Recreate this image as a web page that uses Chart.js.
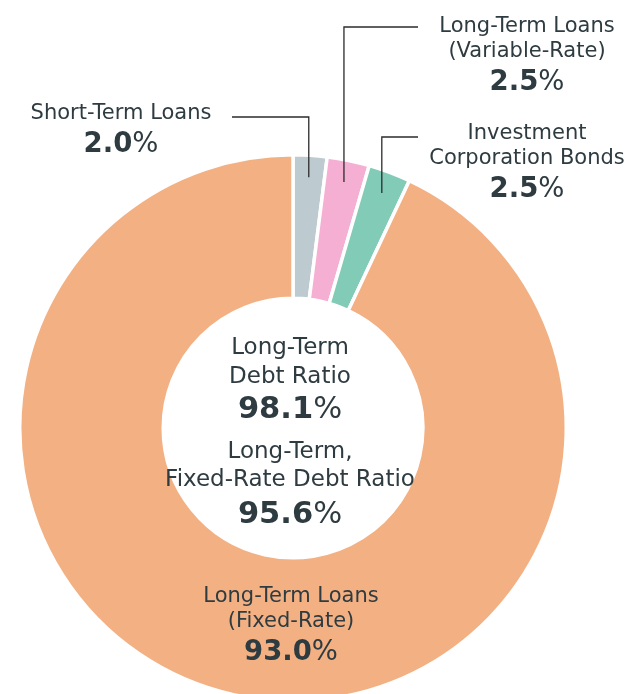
<!DOCTYPE html>
<html lang="en">
<head>
  <meta charset="UTF-8">
  <title>Debt breakdown</title>
  <script src="https://cdn.jsdelivr.net/npm/chart.js"></script>
  <style>
    html, body { margin: 0; padding: 0; background: #fff; overflow: hidden; }
    #wrap { width: 626px; height: 694px; overflow: hidden; position: relative; }
  </style>
</head>
<body>
  <div id="wrap">
    <canvas id="pie" width="626" height="704"></canvas>
  </div>
<script>
  // data
  const categories = ['Short-Term Loans', 'Long-Term Loans (Variable-Rate)', 'Investment Corporation Bonds', 'Long-Term Loans (Fixed-Rate)'];
  const shares = [2.0, 2.5, 2.5, 93.0];
  const labelLines = [['Short-Term Loans'], ['Long-Term Loans', '(Variable-Rate)'], ['Investment', 'Corporation Bonds'], ['Long-Term Loans', '(Fixed-Rate)']];
  const centerTitles = [['Long-Term', 'Debt Ratio'], ['Long-Term,', 'Fixed-Rate Debt Ratio']];
  const centerValues = [98.1, 95.6];

  const colors = ['#bdcbd1', '#f4afd3', '#82cbb6', '#f2b083'];
  const ink = '#2e3b40';
  const FONT = '"DejaVu Sans", Verdana, sans-serif';

  // where each label text goes (x center, first line y) and leader line start
  const labelPos = [
    { x: 121, y: 114, lineY: 117, lineX: 232 },
    { x: 527, y: 27, lineY: 27, lineX: 418 },
    { x: 527, y: 134, lineY: 137, lineX: 418 },
    { x: 291, y: 597 }
  ];

  function drawValue(ctx, value, x, y, size) {
    const num = value.toFixed(1);
    ctx.font = 'bold ' + size + 'px ' + FONT;
    const w1 = ctx.measureText(num).width;
    ctx.font = size + 'px ' + FONT;
    const w2 = ctx.measureText('%').width;
    let left = x - (w1 + w2) / 2;
    ctx.textAlign = 'left';
    ctx.font = 'bold ' + size + 'px ' + FONT;
    ctx.fillText(num, left, y);
    ctx.font = size + 'px ' + FONT;
    ctx.fillText('%', left + w1, y);
  }

  const labelPlugin = {
    id: 'labelPlugin',
    afterDraw(chart) {
      const ctx = chart.ctx;
      const arcs = chart.getDatasetMeta(0).data;
      ctx.save();
      ctx.fillStyle = ink;
      ctx.textBaseline = 'middle';

      arcs.forEach(function (arc, i) {
        const p = labelPos[i];
        const lines = labelLines[i];
        ctx.font = '21px ' + FONT;
        ctx.textAlign = 'center';
        lines.forEach(function (t, k) {
          ctx.fillText(t, p.x, p.y + k * 25);
        });
        drawValue(ctx, shares[i], p.x, p.y + lines.length * 25 + 6, 27.5);

        if (p.lineY !== undefined) {
          const props = arc.getProps(['x', 'y', 'startAngle', 'endAngle', 'outerRadius'], true);
          const mid = (props.startAngle + props.endAngle) / 2;
          const r = props.outerRadius - 22;
          const ex = props.x + Math.cos(mid) * r;
          const ey = props.y + Math.sin(mid) * r;
          ctx.strokeStyle = '#2b2b2b';
          ctx.lineWidth = 1.3;
          ctx.beginPath();
          ctx.moveTo(p.lineX, p.lineY);
          ctx.lineTo(ex, p.lineY);
          ctx.lineTo(ex, ey);
          ctx.stroke();
        }
      });

      // centre texts
      const cx = arcs[0].x - 3;
      ctx.font = '23px ' + FONT;
      ctx.textAlign = 'center';
      ctx.fillStyle = ink;
      ctx.fillText(centerTitles[0][0], cx, 348);
      ctx.fillText(centerTitles[0][1], cx, 377);
      drawValue(ctx, centerValues[0], cx, 410, 30.5);
      ctx.font = '23px ' + FONT;
      ctx.textAlign = 'center';
      ctx.fillText(centerTitles[1][0], cx, 452);
      ctx.fillText(centerTitles[1][1], cx, 480);
      drawValue(ctx, centerValues[1], cx, 515, 30.5);
      ctx.restore();
    }
  };

  const ctx = document.getElementById('pie').getContext('2d');
  const myChart = new Chart(ctx, {
    type: 'doughnut',
    data: {
      labels: categories,
      datasets: [{
        data: shares,
        backgroundColor: colors,
        borderColor: '#ffffff',
        borderWidth: 3.5
      }]
    },
    options: {
      responsive: false,
      animation: false,
      cutout: '47.5%',
      layout: {
        padding: { left: 18, right: 58, top: 153, bottom: 1 }
      },
      plugins: {
        legend: { display: false },
        tooltip: { enabled: false }
      }
    },
    plugins: [labelPlugin]
  });
</script>
</body>
</html>
